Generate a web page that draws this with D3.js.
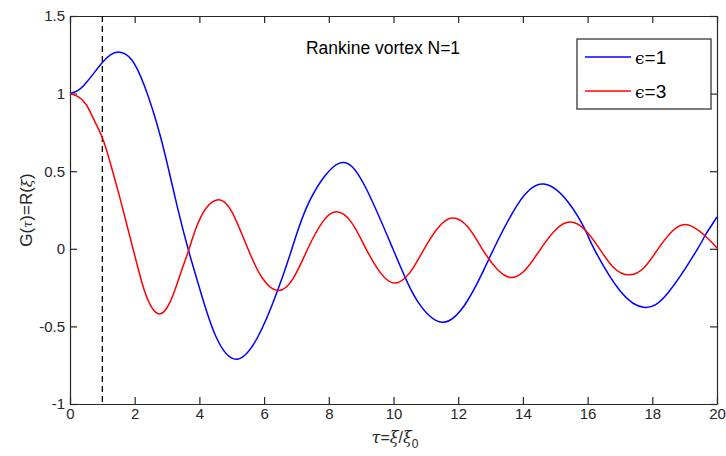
<!DOCTYPE html>
<html>
<head>
<meta charset="utf-8">
<script src="https://cdn.jsdelivr.net/npm/d3@7"></script>
<style>
  body { margin: 0; background: #fff; }
  svg { display: block; font-family: "Liberation Sans", Arial, Helvetica, sans-serif; }
  .tick text { fill: #262626; }
</style>
</head>
<body>
<svg id="chart" width="726" height="456"></svg>
<script>
// values
const xTicks = [0, 2, 4, 6, 8, 10, 12, 14, 16, 18, 20];
const yTicks = [-1, -0.5, 0, 0.5, 1, 1.5];
const yTickLabels = ['-1', '-0.5', '0', '0.5', '1', '1.5'];
const markerTau = 1;

const eps1Tau = [0, 0.25, 0.5, 0.75, 1.0, 1.25, 1.54, 1.9, 2.3, 2.8, 3.25, 3.65, 4.0, 4.5, 5.14,
  5.8, 6.38, 6.86, 7.41, 8.33, 9.15, 9.98, 10.34, 10.75, 11.5, 12.3, 12.94, 13.1, 13.85, 14.64,
  15.4, 15.93, 16.2, 17.0, 17.77, 18.5, 19.4, 19.63, 20];
const eps1G = [1.0, 1.02, 1.07, 1.135, 1.2, 1.25, 1.267, 1.22, 1.05, 0.72, 0.33, 0.0, -0.25, -0.56, -0.711,
  -0.57, -0.29, 0.0, 0.31, 0.552, 0.39, 0.0, -0.175, -0.34, -0.473, -0.33, -0.07, 0.0, 0.29, 0.417,
  0.3, 0.12, 0.0, -0.27, -0.378, -0.28, 0.0, 0.085, 0.205];

const eps3Tau = [0, 0.25, 0.5, 0.72, 1.0, 1.25, 1.54, 1.8, 2.06, 2.35, 2.73, 3.1, 3.4, 3.65, 3.9, 4.2, 4.58,
  5.0, 5.5, 5.95, 6.43, 6.9, 7.35, 7.8, 8.23, 8.7, 9.15, 9.6, 10.03, 10.5, 10.95, 11.4, 11.83,
  12.3, 12.74, 13.2, 13.65, 14.1, 14.55, 15.0, 15.46, 15.93, 16.37, 16.8, 17.28, 17.75, 18.18,
  18.6, 19.08, 19.63, 20];
const eps3G = [1.0, 0.98, 0.93, 0.84, 0.715, 0.55, 0.33, 0.12, -0.09, -0.3, -0.419, -0.34, -0.17, -0.02, 0.135, 0.26, 0.316,
  0.24, 0.0, -0.19, -0.269, -0.19, 0.0, 0.17, 0.238, 0.17, 0.0, -0.155, -0.221, -0.155, 0.0, 0.14, 0.198,
  0.14, 0.0, -0.13, -0.185, -0.13, 0.0, 0.12, 0.172, 0.12, 0.0, -0.12, -0.168, -0.12, 0.0,
  0.11, 0.155, 0.084, 0.005];

const seriesNames = ['=1', '=3'];
const seriesColors = ['#0000ff', '#ff0000'];

const margin = { left: 70, right: 9, top: 16, bottom: 52 };
const width = 726, height = 456;
const svg = d3.select('#chart');

const x = d3.scaleLinear().domain([0, 20]).range([margin.left, width - margin.right]);
const y = d3.scaleLinear().domain([-1, 1.5]).range([height - margin.bottom, margin.top]);

const axisColor = '#262626';
const tickLen = 7;

// axes: bottom/left with labels, top/right mirrored without
const styleAxis = g => {
  g.select('.domain').attr('stroke', axisColor).attr('stroke-width', 1.2);
  g.selectAll('.tick line').attr('stroke', axisColor).attr('stroke-width', 1.2);
  g.selectAll('.tick text').attr('font-size', 15);
};

svg.append('g')
  .attr('transform', `translate(0,${y(-1)})`)
  .call(d3.axisBottom(x).tickValues(xTicks).tickSizeInner(-tickLen).tickSizeOuter(0).tickPadding(4))
  .call(styleAxis)
  .call(g => g.selectAll('.tick text').attr('dy', '0.71em').attr('y', 4));

svg.append('g')
  .attr('transform', `translate(0,${y(1.5)})`)
  .call(d3.axisTop(x).tickValues(xTicks).tickSizeInner(-tickLen).tickSizeOuter(0).tickFormat(''))
  .call(styleAxis);

svg.append('g')
  .attr('transform', `translate(${x(0)},0)`)
  .call(d3.axisLeft(y).tickValues(yTicks).tickSizeInner(-tickLen).tickSizeOuter(0)
    .tickFormat((d, i) => yTickLabels[i]).tickPadding(6))
  .call(styleAxis)
  .call(g => g.selectAll('.tick text').attr('x', -5));

svg.append('g')
  .attr('transform', `translate(${x(20)},0)`)
  .call(d3.axisRight(y).tickValues(yTicks).tickSizeInner(-tickLen).tickSizeOuter(0).tickFormat(''))
  .call(styleAxis);

// dashed marker at tau = 1
svg.append('line')
  .attr('x1', x(markerTau)).attr('x2', x(markerTau))
  .attr('y1', y(1.5)).attr('y2', y(-1))
  .attr('stroke', '#000').attr('stroke-width', 1.3)
  .attr('stroke-dasharray', '6,4');

// curves
const line = d3.line()
  .x(d => x(d[0]))
  .y(d => y(d[1]))
  .curve(d3.curveNatural);

const series = [
  d3.zip(eps1Tau, eps1G),
  d3.zip(eps3Tau, eps3G),
];

svg.append('g')
  .selectAll('path')
  .data(series)
  .join('path')
  .attr('d', line)
  .attr('fill', 'none')
  .attr('stroke', (d, i) => seriesColors[i])
  .attr('stroke-width', 1.5);

// annotation
svg.append('text')
  .attr('x', 383).attr('y', 54)
  .attr('text-anchor', 'middle')
  .attr('font-size', 17.5)
  .attr('fill', '#000')
  .text('Rankine vortex N=1');

// legend
const legend = svg.append('g');
legend.append('rect')
  .attr('x', 577).attr('y', 39).attr('width', 134).attr('height', 70)
  .attr('fill', '#fff').attr('stroke', axisColor).attr('stroke-width', 1.2);

const items = legend.selectAll('g.item')
  .data(seriesNames)
  .join('g')
  .attr('class', 'item')
  .attr('transform', (d, i) => `translate(0,${57 + i * 34})`);

items.append('line')
  .attr('x1', 585).attr('x2', 631)
  .attr('stroke', (d, i) => seriesColors[i]).attr('stroke-width', 1.3);

const itemText = items.append('text')
  .attr('x', 635).attr('y', 7)
  .attr('font-size', 19)
  .attr('fill', '#000');
itemText.append('tspan').attr('font-size', 17).attr('font-family', 'DejaVu Serif, serif').text('ϵ');
itemText.append('tspan').text(d => d);

// axis labels
const xl = svg.append('text')
  .attr('x', 395).attr('y', 443)
  .attr('text-anchor', 'middle')
  .attr('font-size', 16)
  .attr('fill', axisColor);
xl.append('tspan').attr('font-style', 'italic').attr('font-family', 'DejaVu Serif, serif').text('τ');
xl.append('tspan').text('=');
xl.append('tspan').attr('font-style', 'italic').attr('font-family', 'DejaVu Serif, serif').text('ξ');
xl.append('tspan').text('/');
xl.append('tspan').attr('font-style', 'italic').attr('font-family', 'DejaVu Serif, serif').text('ξ');
xl.append('tspan').attr('font-size', 12).attr('dy', 5).text('0');

const yl = svg.append('text')
  .attr('transform', `translate(32,${y(0.25)}) rotate(-90)`)
  .attr('text-anchor', 'middle')
  .attr('font-size', 17)
  .attr('fill', axisColor);
yl.append('tspan').text('G(');
yl.append('tspan').attr('font-style', 'italic').attr('font-size', 13).attr('font-family', 'DejaVu Serif, serif').text('τ');
yl.append('tspan').text(')=R(');
yl.append('tspan').attr('font-style', 'italic').attr('font-size', 15).attr('font-family', 'DejaVu Serif, serif').text('ξ');
yl.append('tspan').text(')');
</script>
</body>
</html>
